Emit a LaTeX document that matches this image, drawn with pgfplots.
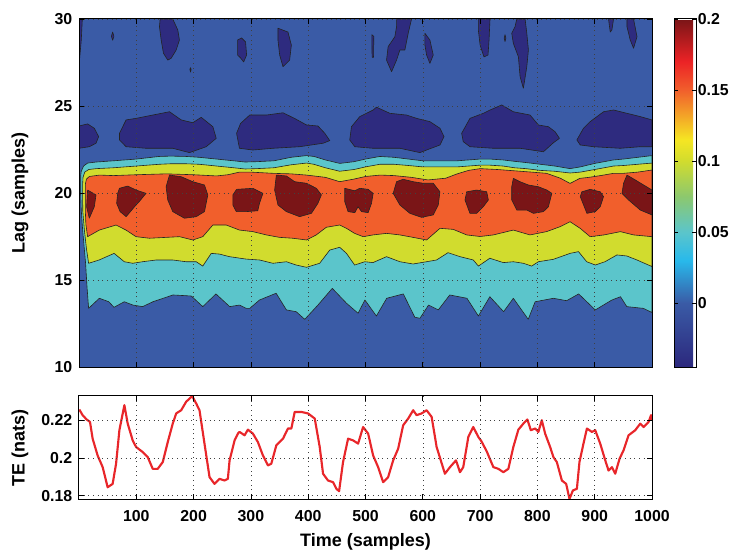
\documentclass[border=0pt]{standalone}
\usepackage{pgfplots}
\pgfplotsset{compat=1.18}
\usepackage{fontspec}
\setmainfont{Liberation Sans}
\newcommand{\tickfont}{\fontsize{11.9}{13}\selectfont\bfseries}
\newcommand{\labfont}{\fontsize{13.5}{15}\selectfont\bfseries}
\definecolor{cNavy}{RGB}{46,43,127}
\definecolor{cBlue}{RGB}{58,91,166}
\definecolor{cCyan}{RGB}{91,197,203}
\definecolor{cYel}{RGB}{209,220,46}
\definecolor{cOra}{RGB}{241,95,44}
\definecolor{cRed}{RGB}{122,21,23}
\definecolor{cLine}{RGB}{35,35,35}
\definecolor{cTE}{RGB}{232,38,42}
\pgfplotsset{
  cont/.style={draw=cLine, line width=0.45pt, line join=round},
  mygrid/.style={grid=major, major grid style={black!75, line width=0.45pt, dash pattern=on 0.5pt off 3pt}},
}
\begin{document}
\begin{tikzpicture}
\useasboundingbox (0,0) rectangle (552.75pt,412.5pt);
% ---------------- top: filled contour ----------------
\begin{axis}[
  at={(59.25pt,137.25pt)}, anchor=south west,
  scale only axis, width=429.75pt, height=261pt,
  xmin=0, xmax=1000, ymin=10, ymax=30,
  xtick={100,200,...,1000}, xticklabels={},
  ytick={10,15,20,25,30}, yticklabels={10,15,20,25,30},
  ylabel={Lag (samples)},
  ylabel style={at={(axis description cs:-0.103,0.5)}, anchor=center, font=\labfont},
  yticklabel style={font=\tickfont, xshift=-1.6pt},
  axis on top, tick align=inside, major tick length=3.75pt,
  xtick pos=both, ytick pos=both, xticklabel pos=lower, yticklabel pos=left,
  axis line style={line width=0.75pt}, tick style={line width=0.6pt, black},
  mygrid, no markers,
  axis background/.style={fill=cBlue},
  colormap={mj}{rgb255(0cm)=(44,40,125); rgb255(4.5cm)=(58,91,166); rgb255(7.5cm)=(40,185,235); rgb255(9.5cm)=(91,197,203); rgb255(12cm)=(140,200,110); rgb255(14.5cm)=(209,220,46); rgb255(16cm)=(245,230,35); rgb255(19.5cm)=(241,95,44); rgb255(21.5cm)=(236,35,38); rgb255(24.5cm)=(122,21,23)},
  point meta min=-0.045, point meta max=0.2,
  colorbar,
  colorbar style={
    at={(parent axis.north east)}, anchor=north west, xshift=8pt,
    scale only axis, width=16.5pt, height=261pt,
    ytick={0,0.05,0.1,0.15,0.2}, yticklabels={0,0.05,0.1,0.15,0.2},
    yticklabel style={font=\tickfont, xshift=-2.2pt},
    tick align=inside, major tick length=3pt,
    ytick pos=both, yticklabel pos=right,
    axis line style={line width=0.75pt}, tick style={line width=0.6pt, black},
  },
]
% navy blobs, lag 22-25
\addplot[fill=cNavy, cont] coordinates {(0,23.85)(15,23.97)(26.7,23.72)(34.3,23.24)(29.7,22.86)(18,22.66)(0,22.57)} -- cycle;
\addplot[fill=cNavy, cont] coordinates {(70.6,23.43)(82.2,24.20)(99.6,24.29)(128.7,24.48)(157.9,24.67)(178.3,24.20)(198.6,24.04)(213.3,24.35)(233.6,23.81)(239.5,23.14)(222,22.66)(192.8,22.32)(163.6,22.57)(117,22.57)(82.2,22.66)(70.6,23.05)} -- cycle;
\addplot[fill=cNavy, cont] coordinates {(275,23.43)(282,24.0)(298,24.48)(327,24.48)(356,24.61)(376,24.29)(397,23.91)(417,23.85)(429,23.43)(437.6,23.01)(426,22.86)(385,22.66)(338.5,22.57)(303.5,22.47)(280,22.57)} -- cycle;
\addplot[fill=cNavy, cont] coordinates {(475.5,23.81)(490,24.39)(513.3,24.77)(519.2,24.93)(542.5,24.58)(571.7,24.48)(589.2,24.29)(612.4,24.10)(630,23.72)(637,23.24)(630,22.76)(606.6,22.47)(595,22.32)(560,22.57)(513.3,22.57)(481.3,22.66)(472.5,23.05)} -- cycle;
\addplot[fill=cNavy, cont] coordinates {(667.8,23.43)(682.3,24.29)(705.6,24.58)(717.3,24.77)(737.8,25.06)(758,24.67)(787.2,24.48)(801.7,23.91)(819.2,23.81)(830.9,23.52)(838.5,23.14)(828,22.89)(810.5,22.37)(769.8,22.57)(723,22.57)(682.3,22.66)(670.6,22.95)} -- cycle;
\addplot[fill=cNavy, cont] coordinates {(868.9,23.05)(880.4,23.72)(892,24.10)(915.4,24.67)(932.9,24.77)(956.3,24.58)(979.5,24.39)(1000,24.20)(1000,22.66)(979.5,22.66)(944.5,22.57)(897.9,22.66)(874.7,22.76)} -- cycle;
% navy blobs, lag 26-30
\addplot[fill=cNavy, cont] coordinates {(0,30)(5.8,30)(4,28.8)(0.5,27.5)(0,27.5)} -- cycle;
\addplot[fill=cNavy, cont] coordinates {(56.5,29.0)(58.7,29.25)(61,29.0)(58.7,28.78)} -- cycle;
\addplot[fill=cNavy, cont] coordinates {(141.6,30)(163.6,30)(172.4,29.37)(175.3,28.79)(169.6,28.22)(160.8,27.74)(154.9,27.64)(147.4,28.03)(143.4,28.79)(140.4,29.56)} -- cycle;
\addplot[fill=cNavy, cont] coordinates {(193.5,27.1)(194.6,27.2)(195.7,27.1)(194.6,26.95)} -- cycle;
\addplot[fill=cNavy, cont] coordinates {(276.7,28.79)(283.7,28.91)(290.7,28.68)(292.5,27.93)(287.3,27.53)(282,27.76)(276.7,27.93)} -- cycle;
\addplot[fill=cNavy, cont] coordinates {(347.2,29.47)(364.7,29.25)(370.6,28.5)(367.6,27.64)(356,27.26)(350.2,27.93)(347.2,28.79)} -- cycle;
\addplot[fill=cNavy, cont] coordinates {(511,29.1)(514.5,29.0)(514,27.8)(511.5,27.8)} -- cycle;
\addplot[fill=cNavy, cont] coordinates {(554.2,30)(580.4,30)(574.5,29.18)(568.7,28.22)(560,28.22)(554.2,27.64)(545.5,26.97)(536.7,27.64)(539.5,28.41)(551.2,28.98)(554.2,29.56)} -- cycle;
\addplot[fill=cNavy, cont] coordinates {(603.7,29.18)(612.4,28.79)(618.2,27.93)(612.4,27.45)(606.6,27.93)(603.7,28.5)} -- cycle;
\addplot[fill=cNavy, cont] coordinates {(696.9,30)(717.3,30)(715.6,28.79)(713.8,27.93)(706.8,27.82)(700,28.5)(696.9,29.37)} -- cycle;
\addplot[fill=cNavy, cont] coordinates {(742,28.9)(743.5,29.1)(745,28.9)(743.5,28.7)} -- cycle;
\addplot[fill=cNavy, cont] coordinates {(764,30)(778.5,30)(781.5,29.18)(784.3,28.22)(781.5,27.26)(775.5,26.02)(769.8,26.68)(766.8,27.83)(758,28.6)(755.2,29.18)(761,29.56)} -- cycle;
\addplot[fill=cNavy, cont] coordinates {(924.1,30)(932.9,30)(930,29.37)(927.1,29.25)} -- cycle;
\addplot[fill=cNavy, cont] coordinates {(956.3,30)(967.8,30)(973.8,28.98)(967.8,28.32)(962,28.79)(956.3,29.56)} -- cycle;
% cyan region
\addplot[fill=cCyan, cont] coordinates {(1000,22.15)(975,22.05)(950,21.95)(933,21.9)(900,21.7)(875,21.5)(857,21.4)(830,21.55)(805,21.65)(780,21.75)(760,21.82)(740,21.9)(717,21.95)(700,21.95)(680,21.9)(660,21.85)(630,21.85)(600,21.85)(575,21.95)(550,22.05)(525,22.1)(500,21.95)(480,21.8)(455,21.7)(430,21.9)(410,22.1)(397,22.15)(370,22.05)(340,21.85)(310,21.8)(290,21.78)(270,21.85)(240,21.95)(210,22.05)(187,22.1)(160,22.12)(140,22.1)(100,21.95)(60,21.85)(30,21.78)(15,21.72)(8,21.55)(4,21.25)(3,21.0)
(3,20)(4,19)(6.3,17.9)(9,16.9)(11.5,15.96)(14,14.6)(16.8,13.37)
(35.5,13.95)(52,13.75)(61,13.43)(79,13.75)(94,13.56)(111,13.47)(129,13.75)(164,14.14)(196,14.08)(216,13.47)(239,14.2)(263,13.47)(280,13.56)(292,13.37)(298,13.37)(315,13.85)(344,14.24)(362,13.28)(379,13.18)(394,12.74)(417,13.56)(442,14.52)(467,13.66)(487,13.09)(499,13.85)(519,12.93)(537,13.95)(566,14.2)(586,12.86)(595,12.8)(610,13.56)(627,13.28)(647,14.14)(677,13.95)(697,12.93)(717,14.04)(741,13.18)(758,13.95)(784,12.74)(796,13.75)(828,13.95)(851,13.81)(872,14.2)(901,13.28)(930,13.85)(945,14.04)(956,13.47)(985,13.37)(1000,13.13)} -- cycle;
% yellow region
\addplot[fill=cYel, cont] coordinates {(1000,21.72)(975,21.65)(950,21.58)(933,21.55)(900,21.35)(875,21.2)(857,21.15)(830,21.25)(805,21.3)(780,21.4)(760,21.45)(740,21.55)(717,21.6)(700,21.6)(680,21.55)(660,21.5)(630,21.5)(600,21.5)(575,21.58)(550,21.65)(525,21.65)(500,21.5)(480,21.35)(455,21.25)(430,21.45)(410,21.65)(397,21.72)(370,21.62)(340,21.45)(310,21.4)(290,21.38)(270,21.45)(240,21.55)(210,21.65)(187,21.68)(160,21.68)(140,21.65)(100,21.55)(60,21.45)(30,21.4)(17,21.35)(10,21.2)(7,20.9)(6.3,20.5)
(6.5,19)(9.3,17.9)(13,16.8)(16.8,15.96)
(35.1,16.15)(61.3,16.53)(79,16.05)(93.7,15.96)(111,16.05)(134.6,16.15)(163.6,16.15)(187,16.05)(204.5,16.05)(216,15.8)(230.8,16.53)(245,16.49)(262.8,16.34)(292,16.2)(315,16.15)(338.5,15.96)(362,16.05)(379,15.86)(397,15.73)(420,15.96)(437.6,16.72)(455,16.88)(466.8,16.53)(481,15.86)(498.8,16.05)(513,16.0)(536.7,16.34)(560,16.05)(583,15.92)(606.6,16.05)(624,16.15)(644,16.57)(665,16.34)(688,16.15)(697,15.8)(717,16.25)(740.5,16.0)(758,16.05)(775.5,15.96)(790,15.8)(801.7,16.05)(828,16.19)(857,16.53)(871.7,16.63)(886,16.05)(901,15.86)(918,16.05)(938.8,16.44)(956,16.38)(973.8,16.15)(1000,15.77)} -- cycle;
% orange region
\addplot[fill=cOra, cont] coordinates {(1000,21.32)(975,21.2)(950,21.13)(933,21.13)(910,21.0)(890,20.9)(874,20.84)(857,20.55)(840,20.85)(816,21.13)(790,21.2)(758,21.28)(730,21.35)(700,21.4)(680,21.3)(660,21.1)(640,20.85)(609,20.75)(580,20.9)(550,21.0)(526,21.03)(500,20.95)(480,20.8)(455,20.65)(430,20.9)(397,21.03)(370,21.1)(339,21.13)(300,21.2)(280,21.2)(260,21.05)(240,20.98)(200,21.05)(152,21.1)(100,21.05)(60,21.0)(36,21.03)(18,20.95)(13,20.8)(11,20.5)
(11,19)(12,18.2)(15,17.49)
(35.5,17.87)(64.7,18.16)(82,17.87)(99.6,17.49)(122.9,17.40)(152,17.45)(175.3,17.49)(198.6,17.30)(216,17.49)(233.6,18.16)(257,18.16)(280,17.87)(303.5,17.78)(327,17.59)(350,17.45)(373,17.40)(397,17.30)(414,17.59)(431.6,18.03)(455,18.16)(466.8,17.97)(481,17.68)(496,17.49)(513,17.59)(536.7,17.68)(560,17.59)(583,17.45)(606.6,17.30)(630,17.97)(653,17.91)(676.6,17.59)(700,17.50)(723,17.59)(758,17.87)(787,17.59)(816,17.78)(840,18.07)(857,18.35)(874.6,17.97)(892,17.49)(916,17.59)(945,17.78)(968,17.59)(1000,17.49)} -- cycle;
% dark red blobs
\addplot[fill=cRed, cont] coordinates {(15,20.17)(29.7,19.89)(26.7,19.21)(18,18.55)(13.3,19.21)} -- cycle;
\addplot[fill=cRed, cont] coordinates {(70.6,20.27)(85,20.40)(99.6,20.17)(117,19.98)(105,19.50)(96.9,19.21)(82.3,18.64)(71.7,18.93)(65.7,19.41)(67.5,19.98)} -- cycle;
\addplot[fill=cRed, cont] coordinates {(157.9,21.03)(178,20.94)(198.6,20.65)(219,20.46)(224.8,19.89)(219,18.93)(204.5,18.64)(184,18.55)(163.6,18.93)(154.9,19.60)(152,20.36)} -- cycle;
\addplot[fill=cRed, cont] coordinates {(268.5,19.89)(275,20.21)(303.5,20.27)(321,19.98)(315,19.41)(312,18.98)(292,18.93)(274.5,18.93)(268.5,19.31)} -- cycle;
\addplot[fill=cRed, cont] coordinates {(344.4,21.03)(361.9,20.98)(376.4,20.65)(396.9,20.56)(414.3,20.27)(423,19.89)(417,19.41)(405.6,18.83)(385,18.64)(361.9,18.93)(347.2,19.31)(341.4,20.17)} -- cycle;
\addplot[fill=cRed, cont] coordinates {(463.8,20.27)(481.3,20.13)(490,20.27)(504.6,20.21)(513.3,19.98)(510.5,19.41)(504.6,18.87)(493,18.93)(487,19.21)(481.3,18.87)(469.6,18.93)(463.8,19.50)} -- cycle;
\addplot[fill=cRed, cont] coordinates {(554.2,20.65)(565.7,20.79)(583.2,20.65)(600.7,20.56)(618.2,20.56)(629.9,20.07)(627,19.31)(618.2,18.74)(597.9,18.6)(577.4,18.83)(560,19.31)(548.3,19.98)} -- cycle;
\addplot[fill=cRed, cont] coordinates {(676.6,20.07)(694,20.17)(711.5,20.07)(714.4,19.6)(705.6,19.21)(694,18.83)(682.3,18.83)(673.6,19.6)} -- cycle;
\addplot[fill=cRed, cont] coordinates {(758,20.84)(769.6,20.65)(784.3,20.46)(801.7,20.36)(816.4,20.17)(825.2,19.98)(819.2,19.21)(810.5,18.93)(793,18.83)(781.5,19.02)(764,19.02)(755.2,19.60)(755.2,20.36)} -- cycle;
\addplot[fill=cRed, cont] coordinates {(877.6,20.07)(892,20.21)(909.6,20.07)(915.4,19.79)(909.6,19.21)(900.9,18.93)(886.4,18.83)(880.6,19.31)(874.8,19.79)} -- cycle;
\addplot[fill=cRed, cont] coordinates {(956.3,21.03)(970.8,20.75)(985.3,20.46)(1000,20.17)(1000,18.74)(979.5,19.02)(959,19.6)(947.6,19.98)(950.4,20.56)} -- cycle;
\end{axis}
% ---------------- bottom: TE ----------------
\begin{axis}[
  at={(59.25pt,38.0pt)}, anchor=south west,
  scale only axis, width=429.75pt, height=77.7pt,
  xmin=0, xmax=1000, ymin=0.178, ymax=0.233,
  xtick={100,200,...,1000}, xticklabels={100,200,300,400,500,600,700,800,900,1000},
  ytick={0.18,0.2,0.22}, yticklabels={0.18,0.2,0.22},
  xlabel={Time (samples)}, ylabel={TE (nats)},
  xlabel style={at={(axis description cs:0.5,-0.412)}, anchor=center, font=\labfont},
  ylabel style={at={(axis description cs:-0.103,0.5)}, anchor=center, font=\labfont},
  xticklabel style={font=\tickfont, yshift=-5pt},
  yticklabel style={font=\tickfont, xshift=-1.6pt},
  axis on top, tick align=inside, major tick length=3.75pt,
  xtick pos=both, ytick pos=both, xticklabel pos=lower, yticklabel pos=left,
  axis line style={line width=0.75pt}, tick style={line width=0.6pt, black},
  mygrid, no markers,
]
\addplot[cTE, line width=1.6pt, line join=round] coordinates {(0.5,0.2257)(6.3,0.2227)(13.3,0.2204)(19.2,0.2191)(23.8,0.2102)(32.5,0.2013)(41.3,0.1951)(50,0.1844)(58.7,0.1862)(64.7,0.1969)(70.5,0.2147)(79.2,0.228)(85,0.2182)(93.7,0.2093)(99.6,0.2058)(111.2,0.2031)(120,0.2004)(128.7,0.1942)(137.4,0.1942)(146.2,0.1978)(154.9,0.2084)(163.6,0.2182)(169.6,0.2236)(178.3,0.2253)(187,0.2298)(197.5,0.2328)(204.5,0.2289)(210.3,0.2253)(219,0.2076)(227.8,0.1898)(236.5,0.1862)(245.3,0.1889)(254,0.188)(259.8,0.1889)(262.8,0.1987)(271.5,0.2093)(277.3,0.2129)(280.2,0.2138)(289,0.212)(294.8,0.215)(303.5,0.2129)(312.2,0.2084)(321,0.2013)(329.7,0.196)(335.6,0.1969)(344.4,0.2067)(356,0.2102)(364.7,0.2156)(370.6,0.2156)(376.4,0.2244)(388.1,0.2244)(399.7,0.2236)(411.4,0.2209)(420.1,0.2058)(425.9,0.1916)(434.6,0.188)(443.4,0.1871)(449.3,0.1836)(453.9,0.1823)(460.8,0.1978)(469.6,0.2102)(478.3,0.2093)(487.1,0.2076)(495.8,0.2164)(504.6,0.2129)(513.3,0.2013)(522,0.1951)(530.8,0.1871)(539.5,0.1898)(548.3,0.1987)(557,0.2049)(565.7,0.2173)(574.5,0.2209)(583.2,0.2253)(589.2,0.2227)(597.9,0.2236)(606.6,0.2253)(615.4,0.2218)(624.1,0.2058)(638.6,0.1916)(647.4,0.1951)(657.9,0.1987)(664.9,0.1924)(670.6,0.1951)(679.4,0.2111)(688.1,0.2164)(696.9,0.2111)(702,0.209)(711.5,0.2035)(723.1,0.1951)(731.8,0.1942)(740.6,0.1924)(749.3,0.1942)(758,0.2058)(766.8,0.215)(775.5,0.2182)(782.5,0.2204)(788.5,0.2147)(796,0.2156)(801.7,0.2138)(807.7,0.22)(813.5,0.2129)(822.2,0.2058)(828,0.2004)(833.9,0.1978)(842.7,0.188)(850.2,0.1862)(856,0.1782)(861.9,0.1827)(868.9,0.1836)(873.4,0.1978)(880.4,0.2076)(886.4,0.2156)(895.1,0.2138)(900.9,0.2147)(909.6,0.2076)(918.4,0.1987)(924.1,0.1933)(930,0.1951)(935.8,0.1916)(943.4,0.1996)(950.3,0.204)(959.1,0.212)(970.8,0.2147)(979.5,0.2182)(985.3,0.2164)(994.1,0.2191)(998.3,0.2227)(1000,0.22)};
\end{axis}
\end{tikzpicture}
\end{document}
